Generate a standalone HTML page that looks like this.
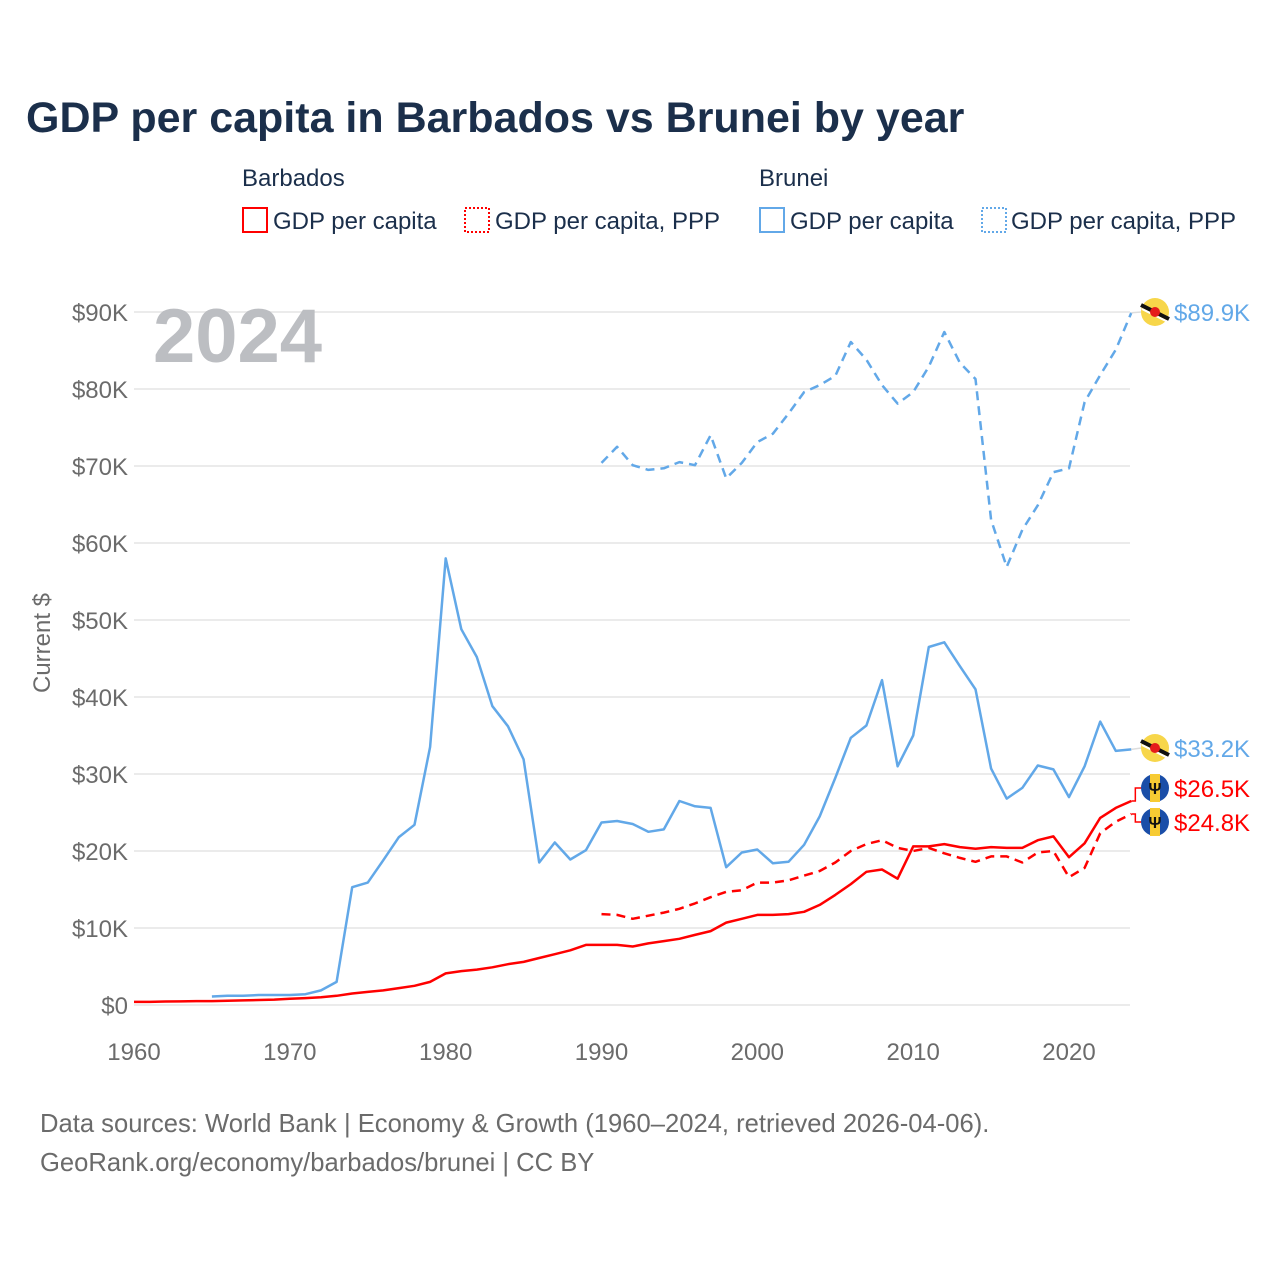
<!DOCTYPE html>
<html><head><meta charset="utf-8"><style>
body{margin:0;background:#fff;width:1280px;height:1280px;overflow:hidden;font-family:"Liberation Sans",sans-serif}
</style></head><body>
<svg id="chart" width="1280" height="1280" xmlns="http://www.w3.org/2000/svg" style="font-family:'Liberation Sans',sans-serif">
<text x="26" y="132" font-size="43" font-weight="bold" fill="#1b2f4b">GDP per capita in Barbados vs Brunei by year</text>
<g font-size="24" fill="#1b2f4b">
<text x="242" y="186">Barbados</text>
<rect x="243" y="208" width="24" height="24" fill="none" stroke="#ff0000" stroke-width="2"/>
<text x="273" y="229">GDP per capita</text>
<rect x="465" y="208" width="24" height="24" fill="none" stroke="#ff0000" stroke-width="2" stroke-dasharray="2,2"/>
<text x="495" y="229">GDP per capita, PPP</text>
<text x="759" y="186">Brunei</text>
<rect x="760" y="208" width="24" height="24" fill="none" stroke="#62a8e8" stroke-width="2"/>
<text x="790" y="229">GDP per capita</text>
<rect x="982" y="208" width="24" height="24" fill="none" stroke="#62a8e8" stroke-width="2" stroke-dasharray="2,2"/>
<text x="1011" y="229">GDP per capita, PPP</text>
</g>
<g id="grid"></g>
<text x="153" y="362" font-size="76" font-weight="bold" fill="#bcbec2">2024</text>
<text transform="translate(50,643) rotate(-90)" text-anchor="middle" font-size="24" fill="#6b6b6b">Current $</text>
<g id="series"></g>
<g id="labels"></g>
<text x="40" y="1132" font-size="25.6" fill="#6b6b6b">Data sources: World Bank | Economy &amp; Growth (1960–2024, retrieved 2026-04-06).</text>
<text x="40" y="1171" font-size="25.6" fill="#6b6b6b">GeoRank.org/economy/barbados/brunei | CC BY</text>
</svg>
<script>
const yTicks=[0,10,20,30,40,50,60,70,80,90];
const xTicks=[1960,1970,1980,1990,2000,2010,2020];
const bruneiGdpStart=1965;
const bruneiGdp=[1.1,1.2,1.2,1.3,1.3,1.3,1.4,1.9,3.0,15.3,15.9,18.8,21.8,23.4,33.5,58.0,48.8,45.2,38.8,36.2,31.9,18.5,21.1,18.9,20.1,23.7,23.9,23.5,22.5,22.8,26.5,25.8,25.6,17.9,19.8,20.2,18.4,18.6,20.8,24.5,29.5,34.7,36.3,42.2,31.0,35.0,46.5,47.1,44.0,41.0,30.7,26.8,28.2,31.1,30.6,27.0,31.0,36.8,33.0,33.2];
const pppStart=1990;
const bruneiPpp=[70.4,72.5,70.1,69.5,69.7,70.5,70.1,74.0,68.4,70.4,73.1,74.2,76.8,79.6,80.5,81.7,86.1,83.8,80.5,78.1,79.6,82.9,87.4,83.4,81.3,63.0,56.9,61.7,64.9,69.2,69.7,78.3,81.8,85.1,89.9];
const barbadosGdpStart=1960;
const barbadosGdp=[0.4,0.4,0.45,0.47,0.5,0.5,0.55,0.6,0.65,0.7,0.8,0.9,1.0,1.2,1.5,1.7,1.9,2.2,2.5,3.0,4.1,4.4,4.6,4.9,5.3,5.6,6.1,6.6,7.1,7.8,7.8,7.8,7.6,8.0,8.3,8.6,9.1,9.6,10.7,11.2,11.7,11.7,11.8,12.1,13.0,14.3,15.7,17.3,17.6,16.4,20.6,20.6,20.9,20.5,20.3,20.5,20.4,20.4,21.4,21.9,19.2,21.0,24.3,25.6,26.5];
const barbadosPpp=[11.8,11.7,11.2,11.6,12.0,12.5,13.2,14.0,14.7,14.9,15.9,15.9,16.2,16.8,17.4,18.5,20.0,20.9,21.4,20.4,20.0,20.4,19.7,19.1,18.6,19.3,19.3,18.5,19.8,20.0,16.6,17.8,22.3,23.8,24.8];

const NS='http://www.w3.org/2000/svg';
const X=yr=>134+(yr-1960)*(1069-134)/60;
const Y=v=>1005-v*(1005-312)/90;
function mk(tag,attrs,parent){const e=document.createElementNS(NS,tag);for(const k in attrs)e.setAttribute(k,attrs[k]);parent.appendChild(e);return e;}
const grid=document.getElementById('grid');
yTicks.forEach(t=>{
  const l=mk('line',{x1:134,x2:1130,y1:Y(t),y2:Y(t),stroke:'#ebebeb','stroke-width':2},grid);
  
  
  const tx=mk('text',{x:128,y:Y(t)+9,'text-anchor':'end','font-size':24,fill:'#6b6b6b'},grid);
  tx.textContent=t===0?'$0':'$'+t+'K';
  
  
});
xTicks.forEach(t=>{
  const tx=mk('text',{x:X(t),y:1060,'text-anchor':'middle','font-size':24,fill:'#6b6b6b'},grid);
  tx.textContent=t;
  
  
});
const series=document.getElementById('series');
function line(data,start,color,dash,name){
  const d=data.map((v,i)=>(i?'L':'M')+X(start+i).toFixed(1)+','+Y(v).toFixed(1)).join('');
  const p=mk('path',{d:d,fill:'none',stroke:color,'stroke-width':2.5,'stroke-linejoin':'round'},series);
  if(dash)p.setAttribute('stroke-dasharray','9,6');
  
  
}
line(bruneiGdp,bruneiGdpStart,'#62a8e8',false,'brunei-gdp-line');
line(bruneiPpp,pppStart,'#62a8e8',true,'brunei-ppp-line');
line(barbadosGdp,barbadosGdpStart,'#ff0000',false,'barbados-gdp-line');
line(barbadosPpp,pppStart,'#ff0000',true,'barbados-ppp-line');

const labels=document.getElementById('labels');
function endLabel(v,ly,color,flag,name){
  const x0=X(2024),y0=Y(v);
  if(Math.abs(ly-y0)>2){
    const c=mk('path',{d:`M${x0},${y0}H${x0+4}V${ly}H${x0+10}`,fill:'none',stroke:color,'stroke-width':1.5},labels);
    
    
  } else {
    const c=mk('line',{x1:x0,x2:x0+10,y1:y0,y2:ly,stroke:'#ddd','stroke-width':1.5},labels);
    
    
  }
  const g=mk('g',{},labels);
  
  
  const cx=1155;
  if(flag==='bn'){
    mk('circle',{cx:cx,cy:ly,r:14,fill:'#f7d64a'},g);
    mk('line',{x1:cx-14,y1:ly-7,x2:cx+14,y2:ly+7,stroke:'#111','stroke-width':4},g);
    mk('line',{x1:cx-13,y1:ly-3,x2:cx+13,y2:ly+10,stroke:'#fff','stroke-width':2},g);
    mk('circle',{cx:cx,cy:ly,r:5,fill:'#e51b1b'},g);
  } else {
    mk('circle',{cx:cx,cy:ly,r:14,fill:'#1a4ea8'},g);
    mk('rect',{x:cx-5,y:ly-14,width:10,height:28,fill:'#f7cb33'},g);
    const t=mk('text',{x:cx,y:ly+6,'text-anchor':'middle','font-size':16,'font-weight':'bold',fill:'#111'},g);
    t.textContent='Ψ';
  }
  const tx=mk('text',{x:1174,y:ly+9,'font-size':24,fill:color},labels);
  tx.textContent='$'+v.toFixed(1)+'K';
  
  
}
endLabel(bruneiPpp[bruneiPpp.length-1],312,'#62a8e8','bn','brunei-ppp');
endLabel(bruneiGdp[bruneiGdp.length-1],748,'#62a8e8','bn','brunei-gdp');
endLabel(barbadosGdp[barbadosGdp.length-1],788,'#ff0000','bb','barbados-gdp');
endLabel(barbadosPpp[barbadosPpp.length-1],822,'#ff0000','bb','barbados-ppp');
</script>
</body></html>
